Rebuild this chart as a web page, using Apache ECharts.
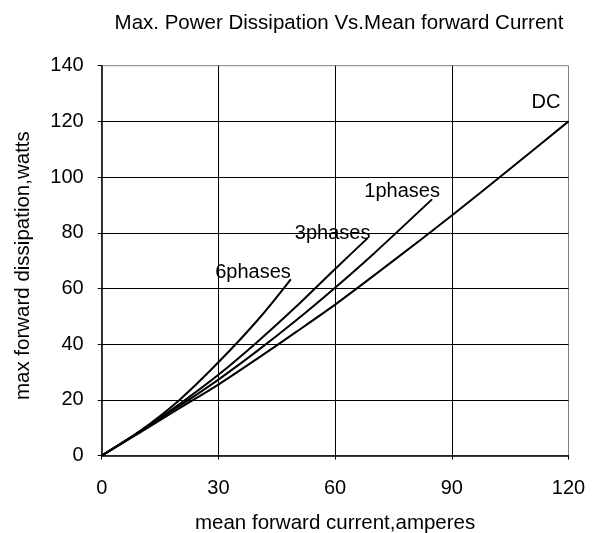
<!DOCTYPE html>
<html>
<head>
<meta charset="utf-8">
<script src="https://cdn.jsdelivr.net/npm/echarts@6/dist/echarts.min.js"></script>
<style>
html,body{margin:0;padding:0;background:#fff;}
#chart{width:592px;height:533px;}
</style>
</head>
<body>
<div id="chart"></div>
<script>
// ---- data ----
const titleText = 'Max. Power Dissipation Vs.Mean forward Current';
const xAxisName = 'mean forward current,amperes';
const yAxisName = 'max forward dissipation,watts';
const xTicks = [0, 30, 60, 90, 120];
const yTicks = [0, 20, 40, 60, 80, 100, 120, 140];
const seriesNames = ['6phases', '3phases', '1phases', 'DC'];
const sixPhase = [[0,0],[10,9],[20,20],[30,33.5],[40,48.5],[48.6,63.3]];
const threePhase = [[0,0],[10,8.8],[20,18.5],[30,29],[40,40.8],[50,53.5],[60,67],[68.3,78]];
const onePhase = [[0,0],[10,8.7],[20,17.8],[30,27.3],[40,37.6],[50,48.6],[60,60.3],[70,72.6],[84.9,92]];
const dcData = [[0,0],[10,8.4],[20,17],[30,25.5],[40,34.8],[50,44.4],[60,54.2],[75,70],[90,86.2],[105,103],[120,120]];
const labelOffsets = [[0,-7],[3,-5],[8,-8],[-8,-19]];

const FONT = 'Liberation Sans';
const allData = [sixPhase, threePhase, onePhase, dcData];

function buildSeries(name, data, off) {
  return {
    name: name,
    type: 'line',
    showSymbol: true,
    symbol: 'circle',
    symbolSize: 1,
    smooth: 0.25,
    lineStyle: {color: '#000', width: 2},
    itemStyle: {color: '#000'},
    emphasis: {disabled: true},
    data: data.map(function (p, i) {
      const item = {value: p};
      if (i === data.length - 1) {
        item.label = {
          show: true,
          position: 'inside',
          align: 'right',
          verticalAlign: 'middle',
          offset: off,
          formatter: name,
          color: '#000',
          fontFamily: FONT,
          fontSize: 20
        };
      }
      return item;
    })
  };
}

const chart = echarts.init(document.getElementById('chart'), null, {renderer: 'canvas'});
chart.setOption({
  animation: false,
  backgroundColor: '#fff',
  title: {
    text: titleText,
    left: 334,
    textAlign: 'center',
    top: 7.5,
    textStyle: {fontFamily: FONT, fontSize: 20.5, fontWeight: 'normal', color: '#000'}
  },
  grid: {
    left: 101.7, right: 23.5, top: 65.7, bottom: 77.4,
    outerBoundsMode: 'none', containLabel: false,
    show: true, borderColor: '#808080', borderWidth: 1, backgroundColor: 'transparent'
  },
  xAxis: {
    type: 'value',
    min: xTicks[0], max: xTicks[xTicks.length - 1], interval: xTicks[1] - xTicks[0],
    name: xAxisName, nameLocation: 'middle', nameGap: 57,
    nameTextStyle: {fontFamily: FONT, fontSize: 20.5, color: '#000'},
    axisLine: {show: true, lineStyle: {color: '#000', width: 1.5}},
    axisTick: {show: true, length: 4, lineStyle: {color: '#000'}},
    axisLabel: {fontFamily: FONT, fontSize: 20, color: '#000', margin: 23},
    splitLine: {show: true, showMinLine: false, showMaxLine: false, lineStyle: {color: '#000', width: 1}}
  },
  yAxis: {
    type: 'value',
    min: yTicks[0], max: yTicks[yTicks.length - 1], interval: yTicks[1] - yTicks[0],
    name: yAxisName, nameLocation: 'middle', nameGap: 68,
    nameTextStyle: {fontFamily: FONT, fontSize: 20.5, color: '#000', padding: [0, 10, 0, 0]},
    axisLine: {show: true, lineStyle: {color: '#000', width: 1.5}},
    axisTick: {show: true, length: 4, lineStyle: {color: '#000'}},
    axisLabel: {fontFamily: FONT, fontSize: 20, color: '#000', margin: 18},
    splitLine: {show: true, showMinLine: false, showMaxLine: false, lineStyle: {color: '#000', width: 1}}
  },
  series: seriesNames.map(function (n, i) { return buildSeries(n, allData[i], labelOffsets[i]); })
});
</script>
</body>
</html>
